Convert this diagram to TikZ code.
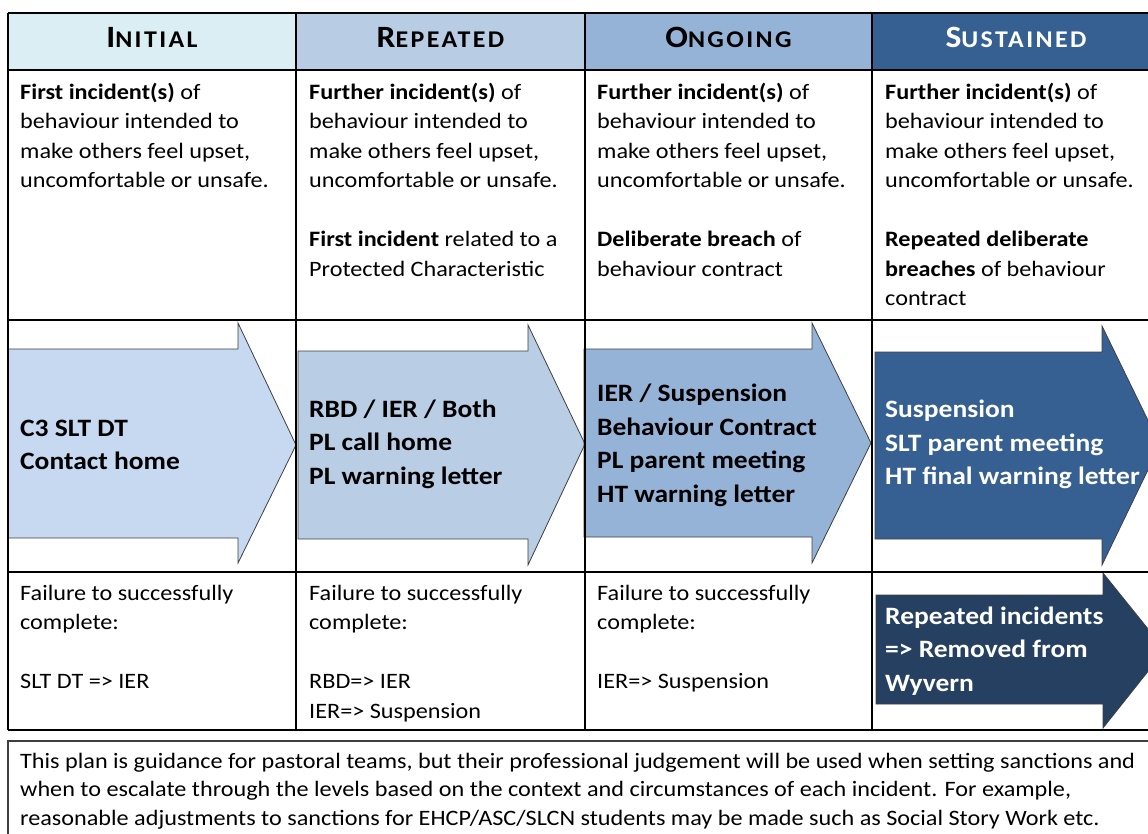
\documentclass[tikz,border=0pt]{standalone}
\usepackage{fontspec}
\setmainfont{Carlito}[FakeStretch=1.1]
\newfontfamily\hdrfont{Carlito}[LetterSpace=10,FakeStretch=1.08]
\definecolor{hone}{HTML}{DAEEF3}
\definecolor{htwo}{HTML}{B8CCE4}
\definecolor{hthree}{HTML}{95B3D7}
\definecolor{hfour}{HTML}{366092}
\definecolor{aone}{HTML}{C6D9F1}
\definecolor{atwo}{HTML}{B9CDE5}
\definecolor{athree}{HTML}{95B3D7}
\definecolor{afour}{HTML}{376092}
\definecolor{afive}{HTML}{254061}
\definecolor{edgegray}{HTML}{3F3F3F}
\newcommand\bodyfont{\fontsize{22}{29.5}\selectfont}
\newcommand\arrfont{\bfseries\fontsize{25}{33.5}\selectfont}
\newcommand\hdr[2]{{\hdrfont\bfseries\fontsize{31}{31}\selectfont #1\fontsize{24}{24}\selectfont #2}}
\tikzset{
  cell/.style={anchor=north west, inner sep=0pt, align=left, font=\bodyfont},
  arrtext/.style={anchor=west, inner sep=0pt, align=left, font=\arrfont},
  hdrtext/.style={inner sep=0pt, anchor=base},
  arrowshape/.style={draw=edgegray, line width=0.8pt},
  gridline/.style={line width=2pt, black}
}
\begin{document}
\begin{tikzpicture}[x=1pt,y=-1pt]
\useasboundingbox (0,0) rectangle (1148,834);
\clip (0,0) rectangle (1148,834);
% header fills
\fill[hone] (8,13) rectangle (296,70);
\fill[htwo] (296,13) rectangle (585,70);
\fill[hthree] (585,13) rectangle (872,70);
\fill[hfour] (872,13) rectangle (1160,70);
% arrows
\draw[arrowshape, fill=aone] (8,349) -- (238,349) -- (238,323) -- (296,445) -- (238,563) -- (238,538) -- (8,538) -- cycle;
\draw[arrowshape, fill=atwo] (298,351) -- (528,351) -- (528,325) -- (585,444) -- (528,565) -- (528,539) -- (298,539) -- cycle;
\draw[arrowshape, fill=athree] (584,349) -- (812,349) -- (812,323) -- (871,443) -- (812,563) -- (812,537) -- (584,537) -- cycle;
\draw[arrowshape, fill=afour] (875,352) -- (1102,352) -- (1102,326) -- (1160,445) -- (1102,565) -- (1102,539) -- (875,539) -- cycle;
\draw[arrowshape, fill=afive] (876,595) -- (1103,595) -- (1103,573) -- (1165,650) -- (1103,728) -- (1103,704) -- (876,704) -- cycle;
% grid
\foreach \yy in {13,320,572,730} \draw[gridline] (8,\yy) -- (1160,\yy);
\draw[line width=2.6pt] (8,70) -- (1160,70);
\foreach \xx in {8,296,585,872} \draw[gridline] (\xx,13) -- (\xx,730);
% bottom box
\draw[line width=1.5pt, edgegray] (8,741) rectangle (1160,860);
% headers
\node[hdrtext] (h1) at (152,48) {\hdr{I}{NITIAL}};
\node[hdrtext] (h2) at (440.5,48) {\hdr{R}{EPEATED}};
\node[hdrtext] (h3) at (728.5,48) {\hdr{O}{NGOING}};
\node[hdrtext, text=white] (h4) at (1016,48) {\hdr{S}{USTAINED}};
% row 2
\node[cell] (d1) at (20,78.35) {\strut\textbf{First incident(s)} of\\behaviour intended to\\make others feel upset,\\uncomfortable or unsafe.};
\node[cell] (d2) at (309,78.35) {\strut\textbf{Further incident(s)} of\\behaviour intended to\\make others feel upset,\\uncomfortable or unsafe.\\[29.5pt]\textbf{First incident} related to a\\Protected Characteristic};
\node[cell] (d3) at (597,78.35) {\strut\textbf{Further incident(s)} of\\behaviour intended to\\make others feel upset,\\uncomfortable or unsafe.\\[29.5pt]\textbf{Deliberate breach} of\\behaviour contract};
\node[cell] (d4) at (885,78.35) {\strut\textbf{Further incident(s)} of\\behaviour intended to\\make others feel upset,\\uncomfortable or unsafe.\\[29.5pt]\textbf{Repeated deliberate}\\\textbf{breaches} of behaviour\\contract};
% arrow texts
\node[arrtext] (s1) at (20,445) {C3 SLT DT\\Contact home};
\node[arrtext] (s2) at (309,444) {RBD / IER / Both\\PL call home\\PL warning letter};
\node[arrtext] (s3) at (597,445.5) {IER / Suspension\\Behaviour Contract\\PL parent meeting\\HT warning letter};
\node[arrtext, text=white] (s4) at (885,444.5) {Suspension\\SLT parent meeting\\HT final warning letter};
\node[arrtext, text=white] (s5) at (885,651) {Repeated incidents\\=> Removed from\\Wyvern};
% row 4
\node[cell] (f1) at (20,579.35) {\strut Failure to successfully\\complete:\\[29.5pt]SLT DT => IER};
\node[cell] (f2) at (309,579.35) {\strut Failure to successfully\\complete:\\[29.5pt]RBD=> IER\\IER=> Suspension};
\node[cell] (f3) at (597,579.35) {\strut Failure to successfully\\complete:\\[29.5pt]IER=> Suspension};
% note
\node[cell, font=\fontsize{22}{28.7}\selectfont] (note) at (20,747.9) {\strut This plan is guidance for pastoral teams, but their professional judgement will be used when setting sanctions and\\when to escalate through the levels based on the context and circumstances of each incident. For example,\\reasonable adjustments to sanctions for EHCP/ASC/SLCN students may be made such as Social Story Work etc.};
\end{tikzpicture}
\end{document}
